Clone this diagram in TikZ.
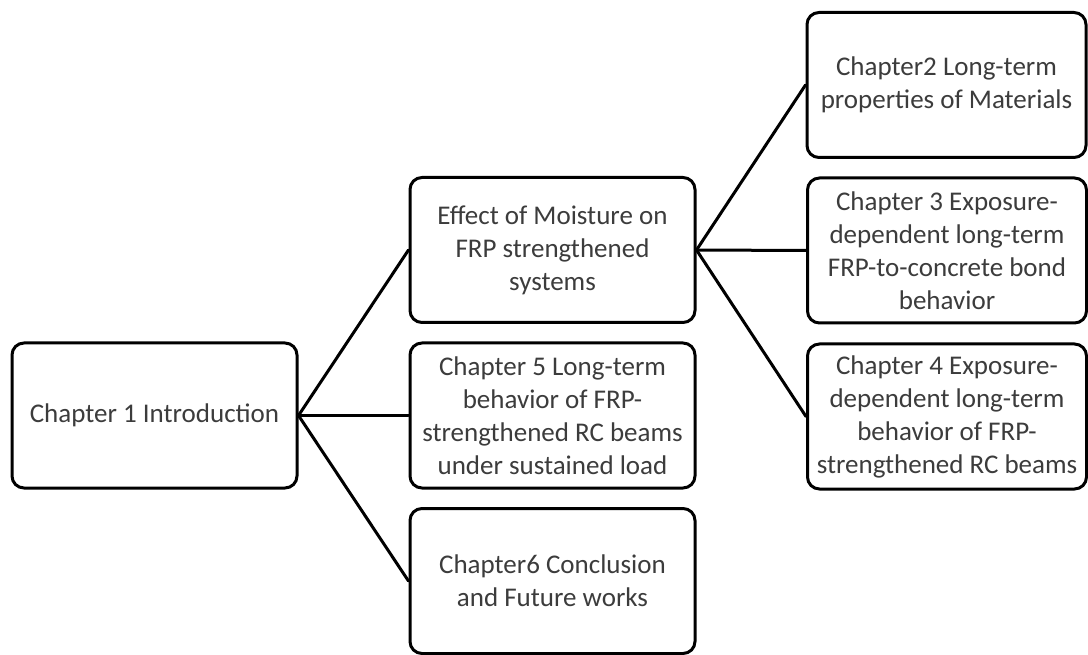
\documentclass[tikz,border=0pt]{standalone}
\usepackage{fontspec}
\setmainfont{Carlito}
\definecolor{textgray}{RGB}{60,60,60}
\begin{document}
\begin{tikzpicture}[x=1pt,y=-1pt,
  box/.style={draw=black, line width=3pt, rounded corners=12pt, fill=white,
    align=center, text=textgray, font=\fontsize{27}{33}\selectfont,
    inner sep=0pt, minimum height=145pt},
  midbox/.style={box, minimum width=285pt},
  rightbox/.style={box, minimum width=279pt},
  link/.style={line width=3pt, line cap=round}]
\useasboundingbox (0,0) rectangle (1088,655);
\node[midbox] (ch1) at (154.5,415.5) {Chapter 1 Introduction};
\node[midbox] (eff) at (552.5,250) {Effect of Moisture on\\FRP strengthened\\systems};
\node[midbox] (ch5) at (552.5,415.5) {Chapter 5 Long-term\\behavior of FRP-\\strengthened RC beams\\under sustained load};
\node[midbox] (ch6) at (552.5,581) {Chapter6 Conclusion\\and Future works};
\node[rightbox] (ch2) at (946.5,85) {Chapter2 Long-term\\properties of Materials};
\node[rightbox] (ch3) at (947,250.5) {Chapter 3 Exposure-\\dependent long-term\\FRP-to-concrete bond\\behavior};
\node[rightbox] (ch4) at (947,416.5) {Chapter 4 Exposure-\\dependent long-term\\behavior of FRP-\\strengthened RC beams};
\draw[link] (ch1.east) -- (eff.west);
\draw[link] (ch1.east) -- (ch5.west);
\draw[link] (ch1.east) -- (ch6.west);
\draw[link] (eff.east) -- (ch2.west);
\draw[link] (eff.east) -- (ch3.west);
\draw[link] (eff.east) -- (ch4.west);
\end{tikzpicture}
\end{document}
